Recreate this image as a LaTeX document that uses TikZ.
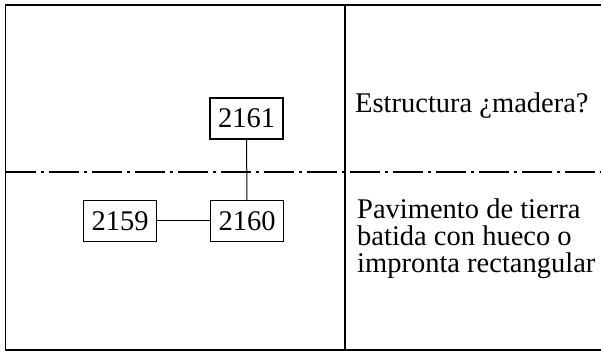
\documentclass[tikz,border=0pt]{standalone}
\usepackage{fontspec}
\setmainfont{Liberation Serif}
\begin{document}
\begin{tikzpicture}[x=1pt,y=-1pt,
  numbox/.style={draw,line width=1.4pt,minimum width=73pt,minimum height=41pt,inner sep=0pt,font=\fontsize{28.5}{28.5}\selectfont},
  frame/.style={line width=1.6pt},
  link/.style={line width=1pt},
  desc/.style={anchor=base west,inner sep=0pt,align=left,font=\fontsize{28.5}{27}\selectfont}]
\useasboundingbox (0,0) rectangle (601,352);
\draw[frame] (601,5) -- (5.5,5) -- (5.5,350) -- (601,350);
\draw[frame] (345,5) -- (345,350);
\draw[line width=1.2pt,dash pattern=on 30pt off 5pt on 3pt off 5pt] (5.5,172) -- (601,172);
\node[numbox] (n2161) at (246.5,118.5) {2161};
\node[numbox] (n2160) at (247,221) {2160};
\node[numbox] (n2159) at (120,221) {2159};
\draw[link] (n2161) -- (n2160);
\draw[link] (n2159) -- (n2160);
\node[desc] (t1) at (355,113) {Estructura ¿madera?};
\node[desc] (t2) at (357,272) {Pavimento de tierra\\batida con hueco o\\impronta rectangular};
\end{tikzpicture}
\end{document}
